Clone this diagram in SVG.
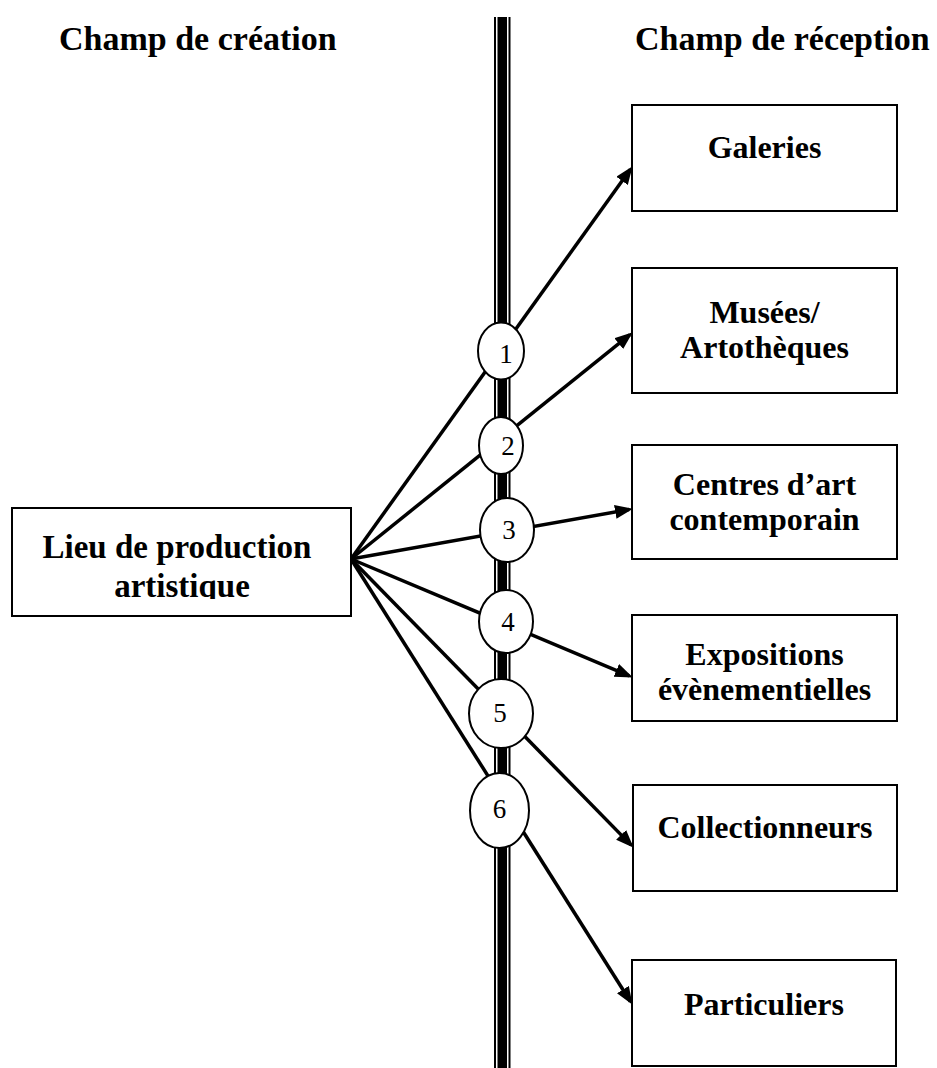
<svg xmlns="http://www.w3.org/2000/svg" width="937" height="1068" viewBox="0 0 937 1068">
<style>
.box{fill:#fff;stroke:#000;stroke-width:2}
.lbl{font-family:"Liberation Serif","Times New Roman",serif;font-weight:bold;font-size:32px;fill:#000;text-anchor:middle}
.head{font-family:"Liberation Serif","Times New Roman",serif;font-weight:bold;font-size:34px;fill:#000}
.num{font-family:"Liberation Serif","Times New Roman",serif;font-size:27px;fill:#000;text-anchor:middle}
.conn{stroke:#000;stroke-width:3.5;fill:none;marker-end:url(#arr)}
.ell{fill:#fff;stroke:#000;stroke-width:2}
</style>
<defs>
<marker id="arr" markerUnits="userSpaceOnUse" markerWidth="19" markerHeight="15" refX="14" refY="7" orient="auto">
<path d="M0,0 L18,7 L0,14 z" fill="#000"/>
</marker>
<clipPath id="clipLieu"><rect x="12" y="508" width="340" height="91"/></clipPath>
</defs>
<rect width="937" height="1068" fill="#fff"/>
<g id="headings">
<text class="head" x="59" y="50">Champ de création</text>
<text class="head" x="635" y="50">Champ de réception</text>
</g>
<g id="divider">
<rect x="494" y="17" width="2" height="1051" fill="#000"/>
<rect x="497.5" y="17" width="9.5" height="1051" fill="#000"/>
<rect x="508.5" y="17" width="2" height="1051" fill="#000"/>
</g>
<g id="connectors">
<line class="conn" x1="351" y1="559" x2="630.25" y2="169.44"/>
<line class="conn" x1="351" y1="559" x2="629.66" y2="334.88"/>
<line class="conn" x1="351" y1="559" x2="629.05" y2="509.53"/>
<line class="conn" x1="351" y1="559" x2="629.23" y2="675.84"/>
<line class="conn" x1="351" y1="559" x2="630.9" y2="844.86"/>
<line class="conn" x1="351" y1="559" x2="630.4" y2="1001.46"/>
</g>
<g id="channel1"><ellipse class="ell" cx="501" cy="351" rx="23" ry="28.5"/><text class="num" x="506" y="363">1</text></g>
<g id="channel2"><ellipse class="ell" cx="501" cy="445.5" rx="22" ry="28.5"/><text class="num" x="508" y="455">2</text></g>
<g id="channel3"><ellipse class="ell" cx="507" cy="530" rx="27" ry="32"/><text class="num" x="509" y="539">3</text></g>
<g id="channel4"><ellipse class="ell" cx="506" cy="621.5" rx="27" ry="31.5"/><text class="num" x="508" y="631">4</text></g>
<g id="channel5"><ellipse class="ell" cx="501" cy="713.5" rx="32" ry="34.5"/><text class="num" x="500" y="722">5</text></g>
<g id="channel6"><ellipse class="ell" cx="499.5" cy="810.5" rx="29.5" ry="37.5"/><text class="num" x="499.5" y="818">6</text></g>
<g id="lieu">
<rect class="box" x="12" y="508" width="339" height="108"/>
<g clip-path="url(#clipLieu)">
<text class="lbl" x="177" y="558" style="font-size:33px">Lieu de production</text>
<text class="lbl" x="182" y="597" style="font-size:33px">artistique</text>
</g>
</g>
<g id="galeries">
<rect class="box" x="632" y="105" width="265" height="106"/>
<text class="lbl" x="764.5" y="158">Galeries</text>
</g>
<g id="musees">
<rect class="box" x="632" y="268" width="265" height="125"/>
<text class="lbl" x="764.5" y="323">Musées/</text>
<text class="lbl" x="764.5" y="358">Artothèques</text>
</g>
<g id="centres">
<rect class="box" x="632" y="445" width="265" height="114"/>
<text class="lbl" x="764.5" y="495">Centres d’art</text>
<text class="lbl" x="764.5" y="530">contemporain</text>
</g>
<g id="expositions">
<rect class="box" x="632" y="615" width="265" height="106"/>
<text class="lbl" x="764.5" y="665">Expositions</text>
<text class="lbl" x="764.5" y="700">évènementielles</text>
</g>
<g id="collectionneurs">
<rect class="box" x="633" y="785" width="264" height="106"/>
<text class="lbl" x="765" y="838">Collectionneurs</text>
</g>
<g id="particuliers">
<rect class="box" x="632" y="960" width="264" height="106"/>
<text class="lbl" x="764" y="1015">Particuliers</text>
</g>
</svg>
